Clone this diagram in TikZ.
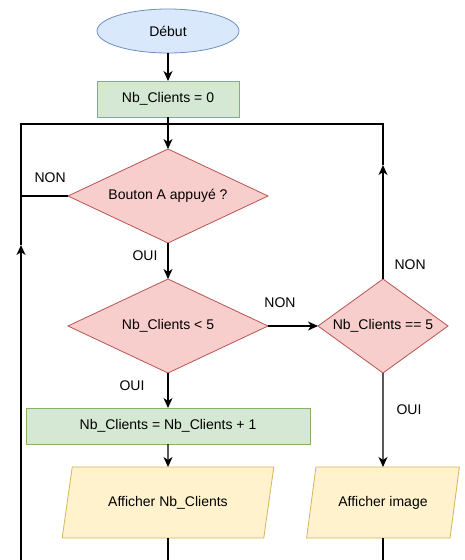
\documentclass[tikz,border=0pt]{standalone}
\usepackage{fontspec}
\setmainfont{Liberation Sans}
\usetikzlibrary{positioning,shapes.geometric,arrows.meta}
\definecolor{bleuf}{HTML}{DAE8FC}
\definecolor{bleut}{HTML}{6C8EBF}
\definecolor{vertf}{HTML}{D5E8D4}
\definecolor{vertt}{HTML}{82B366}
\definecolor{rougef}{HTML}{F8CECC}
\definecolor{rouget}{HTML}{B85450}
\definecolor{jaunef}{HTML}{FFF2CC}
\definecolor{jaunet}{HTML}{D6B656}

\begin{document}
\begin{tikzpicture}[%
    x=1pt,y=1pt,>={Stealth[length=10pt,width=9pt,inset=3pt]},line width=1.2pt,
    font=\fontsize{14pt}{16pt}\selectfont,
    debut/.style={ellipse,draw=bleut,fill=bleuf,line width=.8pt,outer sep=0pt,
      minimum width=142pt,minimum height=44pt},
    bloc/.style={rectangle,draw=vertt,fill=vertf,line width=.8pt,outer sep=0pt,
      minimum height=36pt},
    choix/.style={diamond,draw=rouget,fill=rougef,line width=.8pt,outer sep=0pt,
      inner sep=0pt,minimum height=94pt},
    sortie/.style={trapezium,trapezium left angle=71.3,trapezium right angle=108.7,
      trapezium stretches=true,draw=jaunet,fill=jaunef,line width=.8pt,outer sep=0pt,
      minimum height=71pt},
    lbl/.style={inner sep=0pt}
  ]
    \useasboundingbox (0,0) rectangle (465,-560);
    \node[debut] (debut) at (168,-31)                                {Début};
    \node[bloc,minimum width=142pt] (init) [node distance=28pt, below=of debut] {Nb\_Clients = 0};
    \node[choix,minimum width=200pt,aspect=2.13] (btn) [node distance=32pt, below=of init] {Bouton A appuyé ?};
    \node[choix,minimum width=200pt,aspect=2.13] (test) [node distance=36pt, below=of btn] {Nb\_Clients < 5};
    \node[choix,minimum width=130pt,aspect=1.38] (egal) [node distance=50pt, right=of test] {Nb\_Clients == 5};
    \node[bloc,minimum width=284pt] (incr) [node distance=35pt, below=of test] {Nb\_Clients = Nb\_Clients + 1};
    \node[sortie,minimum width=212pt] (affnb) [node distance=23pt, below=of incr] {Afficher Nb\_Clients};
    \node[sortie,minimum width=153pt] (affimg) [node distance=94pt, below=of egal] {Afficher image};

    % boucle
    \coordinate (hautg) at (21,-124);
    \coordinate (hautd) at (383,-124);
    \coordinate (basg) at (21,-560);
    \coordinate (flecheg) at (21,-245);
    \coordinate (fleched) at (383,-165);

    \draw[->] (debut) -- (init);
    \draw[->] (init) -- (btn);
    \draw[->] (basg) -- (flecheg);
    \draw (flecheg) -- (hautg) -- (hautd) -- (fleched);
    \draw (btn.west) -- node[lbl,above=13pt,pos=.38] {NON} (btn.west -| hautg);
    \draw[->] (btn) -- node[lbl,left=10pt,pos=.36] {OUI} (test);
    \draw[->] (test) -- node[lbl,above=18pt,pos=.24] {NON} (egal);
    \draw[->] (egal) -- node[lbl,right=11pt,pos=.13] {NON} (fleched);
    \draw[->] (test) -- node[lbl,left=23pt,pos=.37] {OUI} (incr);
    \draw[->] (egal) -- node[lbl,right=13pt,pos=.39] {OUI} (affimg);
    \draw[->] (incr) -- (affnb);
    \draw (affnb.south) -- (affnb.south |- basg);
    \draw (affimg.south) -- (affimg.south |- basg);
\end{tikzpicture}
\end{document}
